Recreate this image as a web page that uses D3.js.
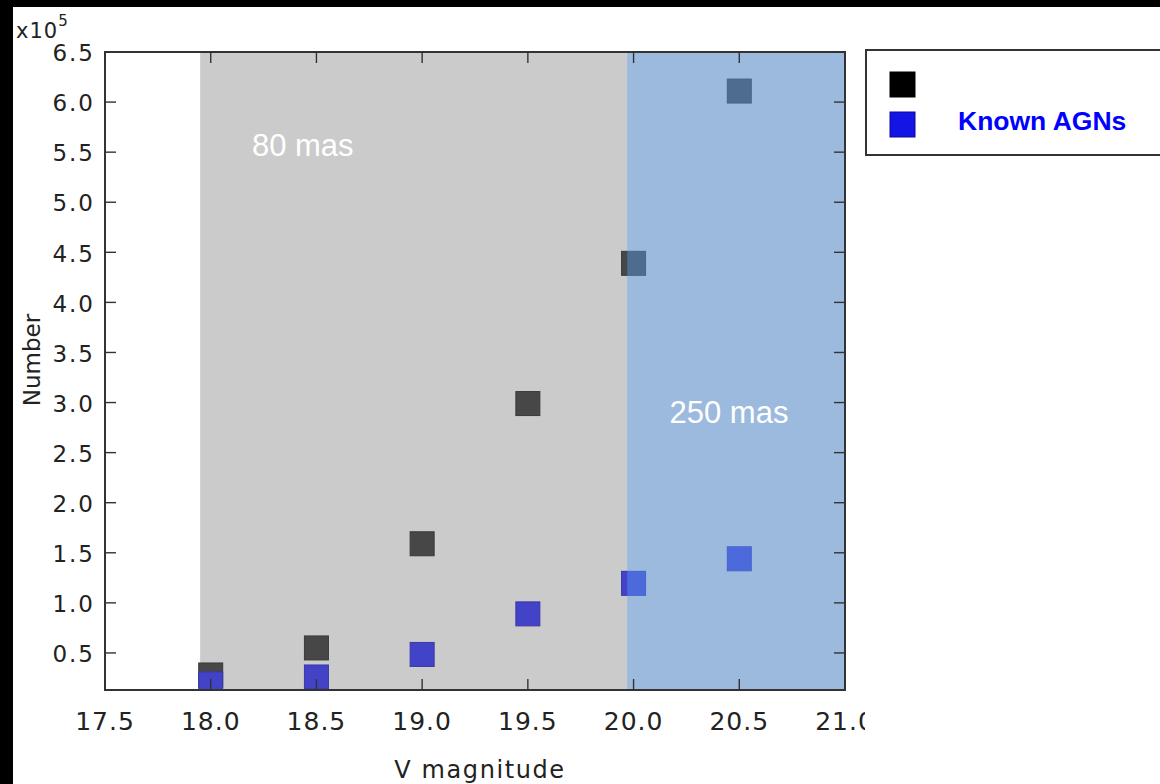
<!DOCTYPE html>
<html>
<head>
<meta charset="utf-8">
<script src="https://cdn.jsdelivr.net/npm/d3@7"></script>
<style>
  html, body { margin: 0; padding: 0; background: #000; }
  #chart { position: absolute; left: 13px; top: 7px; width: 1147px; height: 777px; background: #fff; }
  svg { position: absolute; left: -13px; top: -7px; }
</style>
</head>
<body>
<div id="chart"></div>
<script>
// V magnitude bins and counts (in units of 1e5)
const mags = [18.0, 18.5, 19.0, 19.5, 20.0, 20.5];
const allCounts = [0.28, 0.55, 1.59, 2.99, 4.39, 6.11];
const agnCounts = [0.19, 0.26, 0.485, 0.89, 1.195, 1.44];

const xTicks = [17.5, 18.0, 18.5, 19.0, 19.5, 20.0, 20.5, 21.0];
const yTicks = [0.5, 1.0, 1.5, 2.0, 2.5, 3.0, 3.5, 4.0, 4.5, 5.0, 5.5, 6.0, 6.5];

// astrometric precision bands
const bands = [
  { from: 17.95, to: 19.97, label: "80 mas", labelAt: [18.195, 5.46] },
  { from: 19.97, to: 21.0, label: "250 mas", labelAt: [20.17, 2.8] }
];

const legendItems = [
  { label: "", fill: "#000000", stroke: "#000000", text: "#000000" },
  { label: "Known AGNs", fill: "#1414e6", stroke: "#0a0a90", text: "#0000ff" }
];

(() => {
  "use strict";

  const W = 1160, H = 784;
  const plot = { left: 105, right: 845, top: 52, bottom: 690 };
  const MS = 24; // marker size

  const svg = d3.select("#chart").append("svg").attr("width", W).attr("height", H);

  const defs = svg.append("defs");
  defs.append("clipPath").attr("id", "plotClip").append("rect")
    .attr("x", plot.left).attr("y", plot.top)
    .attr("width", plot.right - plot.left).attr("height", plot.bottom - plot.top);
  defs.append("clipPath").attr("id", "canvasClip").append("rect")
    .attr("x", 0).attr("y", 0).attr("width", 865).attr("height", H);

  const x = d3.scaleLinear().domain([17.5, 21.0]).range([plot.left, plot.right]);
  const y = d3.scaleLinear().domain([0.13, 6.5]).range([plot.bottom, plot.top]);

  const body = svg.append("g").attr("clip-path", "url(#plotClip)");

  // gray band underneath (runs under the blue band too)
  body.append("rect")
    .attr("x", x(bands[0].from)).attr("y", plot.top)
    .attr("width", x(bands[1].to) - x(bands[0].from))
    .attr("height", plot.bottom - plot.top)
    .attr("fill", "#cbcbcb");

  const pts = (vals) => mags.map((m, i) => ({ m, v: vals[i] }));

  body.selectAll("rect.all").data(pts(allCounts)).join("rect")
    .attr("class", "all")
    .attr("x", d => x(d.m) - MS / 2).attr("y", d => y(d.v) - MS / 2)
    .attr("width", MS).attr("height", MS)
    .attr("fill", "#474747").attr("stroke", "#3a3a3a").attr("stroke-width", 1);

  body.selectAll("rect.agn").data(pts(agnCounts)).join("rect")
    .attr("class", "agn")
    .attr("x", d => x(d.m) - MS / 2).attr("y", d => y(d.v) - MS / 2)
    .attr("width", MS).attr("height", MS)
    .attr("fill", "#4343c8").attr("stroke", "#3838a8").attr("stroke-width", 1);

  // translucent blue band on top of the markers
  body.append("rect")
    .attr("x", x(bands[1].from)).attr("y", plot.top)
    .attr("width", x(bands[1].to) - x(bands[1].from))
    .attr("height", plot.bottom - plot.top)
    .attr("fill", "rgb(90,163,251)").attr("fill-opacity", 0.41);

  // frame + inward ticks
  const axisG = svg.append("g").attr("stroke", "#333").attr("fill", "none");
  axisG.append("rect")
    .attr("x", plot.left).attr("y", plot.top)
    .attr("width", plot.right - plot.left).attr("height", plot.bottom - plot.top)
    .attr("stroke-width", 2);

  const TL = 11;
  axisG.selectAll("line.xb").data(xTicks).join("line").attr("class", "xb")
    .attr("x1", d => x(d)).attr("x2", d => x(d))
    .attr("y1", plot.bottom).attr("y2", plot.bottom - TL).attr("stroke-width", 1.4);
  axisG.selectAll("line.xt").data(xTicks).join("line").attr("class", "xt")
    .attr("x1", d => x(d)).attr("x2", d => x(d))
    .attr("y1", plot.top).attr("y2", plot.top + TL).attr("stroke-width", 1.4);
  axisG.selectAll("line.yl").data(yTicks).join("line").attr("class", "yl")
    .attr("y1", d => y(d)).attr("y2", d => y(d))
    .attr("x1", plot.left).attr("x2", plot.left + TL).attr("stroke-width", 1.4);
  axisG.selectAll("line.yr").data(yTicks).join("line").attr("class", "yr")
    .attr("y1", d => y(d)).attr("y2", d => y(d))
    .attr("x1", plot.right).attr("x2", plot.right - TL).attr("stroke-width", 1.4);

  const fmt = d3.format(".1f");
  const tickFont = "DejaVu Sans, sans-serif";

  svg.append("g").attr("clip-path", "url(#canvasClip)")
    .selectAll("text").data(xTicks).join("text")
    .attr("x", d => x(d)).attr("y", 730)
    .attr("text-anchor", "middle")
    .attr("font-family", tickFont).attr("font-size", 25)
    .attr("letter-spacing", 1)
    .attr("fill", "#222")
    .text(fmt);

  svg.append("g").selectAll("text").data(yTicks).join("text")
    .attr("x", 95).attr("y", d => y(d))
    .attr("dy", "0.4em")
    .attr("text-anchor", "end")
    .attr("font-family", tickFont).attr("font-size", 23)
    .attr("letter-spacing", 2)
    .attr("fill", "#222")
    .text(fmt);

  // exponent
  const ex = svg.append("text").attr("x", 16).attr("y", 38)
    .attr("font-family", tickFont).attr("font-size", 21).attr("fill", "#222")
    .attr("letter-spacing", 1);
  ex.append("tspan").text("x10");
  ex.append("tspan").attr("font-size", 15).attr("dy", -12).text("5");

  svg.append("text")
    .attr("x", (plot.left + plot.right) / 2 + 5).attr("y", 778)
    .attr("text-anchor", "middle")
    .attr("font-family", tickFont).attr("font-size", 24)
    .attr("letter-spacing", 1.6)
    .attr("fill", "#222")
    .text("V magnitude");

  svg.append("text")
    .attr("transform", "translate(40,360) rotate(-90)")
    .attr("text-anchor", "middle")
    .attr("font-family", tickFont).attr("font-size", 23)
    .attr("fill", "#222")
    .text("Number");

  // band labels
  svg.selectAll("text.band").data(bands).join("text")
    .attr("class", "band")
    .attr("x", d => x(d.labelAt[0])).attr("y", d => y(d.labelAt[1]))
    .attr("font-family", "Liberation Sans, Arial, sans-serif")
    .attr("font-size", 31)
    .attr("fill", "#fff")
    .text(d => d.label);

  // legend
  const lg = svg.append("g");
  lg.append("rect")
    .attr("x", 866).attr("y", 50).attr("width", 320).attr("height", 105)
    .attr("fill", "#fff").attr("stroke", "#333").attr("stroke-width", 2);
  const items = lg.selectAll("g.item").data(legendItems).join("g")
    .attr("class", "item")
    .attr("transform", (d, i) => `translate(890,${72 + i * 40})`);
  items.append("rect")
    .attr("width", 25).attr("height", 25)
    .attr("fill", d => d.fill).attr("stroke", d => d.stroke).attr("stroke-width", 1);
  items.append("text")
    .attr("x", 68).attr("y", 18)
    .attr("font-family", "Liberation Sans, Arial, sans-serif")
    .attr("font-weight", "bold").attr("font-size", 26.5)
    .attr("fill", d => d.text)
    .text(d => d.label);
})();
</script>
</body>
</html>
